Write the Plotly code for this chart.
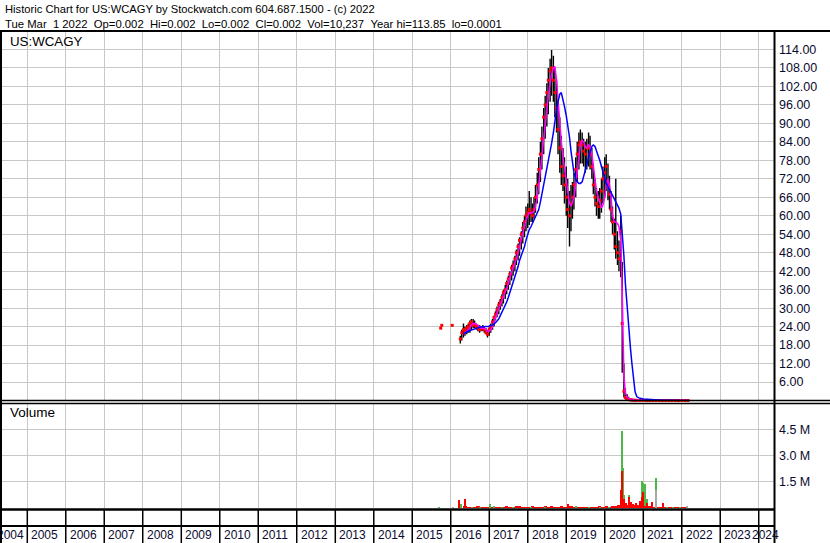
import plotly.graph_objects as go

W, H = 830, 543
FONT = "Liberation Sans, Arial, sans-serif"
GRID = "#c8c8c8"
AXC = "#0a0a30"

# ---------------- data ----------------
price_dates = [
    "2015-09-28", "2015-10-08", "2016-01-15",
    "2016-04-01", "2016-04-15", "2016-05-01", "2016-05-15", "2016-06-01", "2016-06-15",
    "2016-07-01", "2016-07-15", "2016-08-01", "2016-08-15", "2016-09-01", "2016-09-15",
    "2016-10-01", "2016-10-15", "2016-11-01", "2016-11-15", "2016-12-01", "2016-12-15",
    "2017-01-01", "2017-01-15", "2017-02-01", "2017-02-15", "2017-03-01", "2017-03-15",
    "2017-04-01", "2017-04-15", "2017-05-01", "2017-05-15", "2017-06-01", "2017-06-15",
    "2017-07-01", "2017-07-15", "2017-08-01", "2017-08-15", "2017-09-01", "2017-09-15",
    "2017-10-01", "2017-10-15", "2017-11-01", "2017-11-15", "2017-12-01", "2017-12-15",
    "2018-01-01", "2018-01-15", "2018-02-01", "2018-02-15", "2018-03-01", "2018-03-15",
    "2018-04-01", "2018-04-15", "2018-05-01", "2018-05-15", "2018-06-01", "2018-06-15",
    "2018-07-01", "2018-07-15", "2018-08-01", "2018-08-15", "2018-09-01", "2018-09-15",
    "2018-10-01", "2018-10-15", "2018-11-01", "2018-11-15", "2018-12-01", "2018-12-15",
    "2019-01-01", "2019-01-15", "2019-02-01", "2019-02-15", "2019-03-01", "2019-03-15",
    "2019-04-01", "2019-04-15", "2019-05-01", "2019-05-15", "2019-06-01", "2019-06-15",
    "2019-07-01", "2019-07-15", "2019-08-01", "2019-08-15", "2019-09-01", "2019-09-15",
    "2019-10-01", "2019-10-15", "2019-11-01", "2019-11-15", "2019-12-01", "2019-12-15",
    "2020-01-01", "2020-01-15", "2020-02-01", "2020-02-15", "2020-03-01", "2020-03-15",
    "2020-04-01", "2020-04-15", "2020-05-01", "2020-05-15", "2020-06-01", "2020-06-15",
    "2020-07-01", "2020-07-15", "2020-08-01", "2020-08-15", "2020-09-01", "2020-09-15",
    "2020-10-01", "2020-10-15",
    "2020-11-01", "2020-12-01", "2021-01-01", "2021-02-01", "2021-03-01", "2021-04-01",
    "2021-05-01", "2021-06-01", "2021-07-01", "2021-08-01", "2021-09-01", "2021-10-01",
    "2021-11-01", "2021-12-01", "2022-01-01", "2022-02-01", "2022-03-01",
]
price_low = [
    23.2, 24.2, 24.2,
    18.5, 19.5, 20.5, 21, 21.5, 22, 22, 23, 23.5, 23.5, 23, 22.5, 22, 22.5, 22.5, 22, 21.5, 20.5,
    21, 22, 23, 24, 26, 27, 28, 29.5, 30.5, 31.5, 33, 34.5, 36, 37.5, 39, 40.5, 42, 44, 45.5, 47, 49, 51, 53, 55,
    56, 57, 58, 58, 59, 61, 64, 67, 71, 75, 80, 85, 89, 93, 97, 99, 97, 92, 87, 80, 74, 70, 68, 64,
    60, 56, 50, 55, 59, 62, 66, 71, 75, 77, 77, 76, 74, 75, 76, 75, 72, 67, 63, 60, 59, 59, 61, 64,
    66, 68, 65, 62, 58, 54, 49, 46, 44, 42, 40, 9, 1, 0.3, 0.2, 0.1, 0.05, 0.05, 0.02, 0.01,
    0.01, 0.005, 0.005, 0.003, 0.003, 0.002, 0.002, 0.002, 0.002, 0.002, 0.002, 0.002,
    0.002, 0.002, 0.002, 0.002, 0.002,
]
price_high = [
    23.8, 24.6, 24.6,
    21, 23, 25, 24, 24.5, 25, 26, 26.5, 26.5, 26, 25, 24.5, 24.5, 24, 24.5, 24, 23.5, 23,
    24, 25, 26.5, 27.5, 29, 30.5, 32, 33, 34.5, 36, 37.5, 39, 40.5, 42, 44, 45.5, 47, 49, 51, 53, 55, 58, 60, 63,
    64, 68, 66, 64, 66, 70, 74, 79, 84, 89, 95, 99, 103, 108, 111, 113.85, 112, 108, 104, 98, 92, 86, 82, 79,
    76, 72, 68, 70, 71, 74, 79, 84, 87, 88, 87, 85, 84, 85, 87, 86, 82, 77, 72, 69, 68, 69, 72, 76,
    79, 80, 77, 73, 68, 63, 59, 72, 55, 52, 60, 45, 12, 4, 2, 1.2, 0.8, 0.6, 0.4, 0.3,
    0.25, 0.15, 0.1, 0.08, 0.05, 0.05, 0.04, 0.04, 0.03, 0.03, 0.02, 0.02,
    0.02, 0.02, 0.01, 0.01, 0.01,
]
price_close = [
    23.5, 24.4, 24.4,
    20, 22, 23, 22.5, 23.5, 24, 25, 25.5, 24.5, 24.5, 24, 23.5, 23, 23.5, 23.5, 23, 22, 21.5,
    23, 24, 25.5, 27, 28, 29.5, 31, 32, 33.5, 35, 36, 38, 39.5, 41, 43, 44, 46, 48, 50, 52, 54, 56, 58, 60,
    61, 62, 61, 60, 62, 66, 70, 75, 80, 85, 92, 96, 100, 104, 107, 108, 104, 100, 95, 88, 82, 76, 73, 70,
    66, 62, 60, 64, 66, 70, 75, 80, 83, 84, 83, 81, 80, 82, 82, 80, 76, 70, 66, 64, 63, 65, 68, 72,
    74, 76, 70, 67, 62, 58, 54, 50, 48, 46, 55, 25, 3, 1, 0.5, 0.3, 0.2, 0.15, 0.1, 0.05,
    0.05, 0.03, 0.02, 0.01, 0.01, 0.005, 0.005, 0.004, 0.003, 0.003, 0.002, 0.002,
    0.002, 0.002, 0.002, 0.002, 0.002,
]

ma_dates = price_dates[5:]
ma_short = [
    21.5, 22, 22.5, 23, 23.5, 24.5, 25, 25, 24.8, 24.5, 24, 23.5, 23.5, 23.5, 23, 22.5,
    22.5, 23, 24, 25.5, 27, 28.5, 30, 31, 32.5, 34, 35, 36.5, 38, 40, 41.5, 43, 44.5, 46, 48, 50, 52, 54, 56.5, 58.5,
    60, 61, 61, 61, 61.5, 63, 66, 70, 74, 79, 85, 90, 95, 99, 103, 106, 108, 108.5, 104, 97, 90, 84, 79, 75,
    72, 68, 64, 63, 64.5, 66, 70, 74, 79, 83, 84.5, 84, 82.5, 82, 83, 82.5, 80, 76, 71, 68, 66, 64, 62.5, 63.5,
    66, 70, 72, 70, 66, 60, 58, 58, 57.5, 56.5, 52, 35, 8, 2.5, 1, 0.6, 0.4, 0.3, 0.2, 0.15,
    0.1, 0.06, 0.04, 0.03, 0.02, 0.02, 0.01, 0.01, 0.01, 0.01, 0.01, 0.01, 0.01, 0.01, 0.01, 0.01, 0.01,
]
ma_long = [
    21.7, 22, 22.3, 22.5, 22.7, 22.9, 23.1, 23.3, 23.5, 23.7, 23.8, 23.9, 24, 24, 24, 24,
    24.1, 24.3, 24.5, 24.8, 25.2, 25.8, 26.5, 27.5, 28.5, 29.3, 30.5, 32, 33.5, 35, 36.5, 38.5, 40, 41.5, 43.5, 45.5, 47, 48.5, 50, 52,
    54, 55.5, 56.5, 57.5, 58.5, 59.5, 60.5, 62, 64.5, 67, 69.5, 72, 74.5, 77, 80, 83.5, 87, 91, 94.5, 97, 99.5, 100, 98, 95.5,
    92.5, 89.5, 85.5, 81, 77, 74, 72, 71, 70.5, 70.5, 71, 72.5, 74.5, 76.5, 79, 81, 82.5, 83, 82.5, 81, 79.5, 78, 76, 74,
    72, 70.5, 69.5, 68.5, 67.5, 66.5, 65.5, 64.5, 63.5, 62.5, 60.5, 55, 47, 38, 30, 22, 17, 12, 6.5, 2.8,
    1.2, 0.7, 0.5, 0.4, 0.3, 0.25, 0.2, 0.15, 0.12, 0.1, 0.08, 0.06, 0.05, 0.04, 0.03, 0.02, 0.02,
]

# volume in millions
vol_base_dates = [
    "2016-05-15", "2016-06-15", "2016-07-15", "2016-08-15", "2016-09-15", "2016-10-15", "2016-11-15", "2016-12-15",
    "2017-01-15", "2017-02-15", "2017-03-15", "2017-04-15", "2017-05-15", "2017-06-15",
    "2017-07-15", "2017-08-15", "2017-09-15", "2017-10-15", "2017-11-15", "2017-12-15",
    "2018-01-15", "2018-02-15", "2018-03-15", "2018-04-15", "2018-05-15", "2018-06-15",
    "2018-07-15", "2018-08-15", "2018-09-15", "2018-10-15", "2018-11-15", "2018-12-15",
    "2019-01-15", "2019-02-15", "2019-03-15", "2019-04-15", "2019-05-15", "2019-06-15",
    "2019-07-15", "2019-08-15", "2019-09-15", "2019-10-15", "2019-11-15", "2019-12-15",
    "2020-01-15", "2020-02-15", "2020-03-15", "2020-04-15", "2020-05-15", "2020-06-15",
    "2020-07-15", "2020-08-15", "2020-09-15", "2020-10-15", "2020-11-15", "2020-12-15",
    "2021-01-15", "2021-02-15", "2021-03-15", "2021-04-15", "2021-05-15", "2021-06-15",
    "2021-07-15", "2021-08-15", "2021-09-15", "2021-10-15", "2021-11-15", "2021-12-15",
    "2022-01-15", "2022-02-15",
]
vol_base = [
    0.12, 0.1, 0.08, 0.1, 0.12, 0.08, 0.1, 0.08,
    0.1, 0.08, 0.1, 0.08, 0.1, 0.12, 0.1, 0.1, 0.12, 0.14, 0.1, 0.1,
    0.1, 0.12, 0.1, 0.1, 0.1, 0.12, 0.1, 0.12, 0.1, 0.1, 0.12, 0.1,
    0.1, 0.12, 0.1, 0.1, 0.08, 0.1, 0.1, 0.08, 0.1, 0.1, 0.12, 0.1,
    0.12, 0.1, 0.12, 0.15, 0.2, 0.3, 0.25, 0.2, 0.15, 0.2, 0.2, 0.15,
    0.15, 0.15, 0.12, 0.1, 0.1, 0.1, 0.08, 0.08, 0.08, 0.06, 0.06, 0.06,
    0.06, 0.06,
]
vol_green_dates = [
    "2015-09-12", "2016-04-12", "2016-07-20", "2016-10-10", "2017-01-08", "2017-02-12", "2017-05-05",
    "2017-08-12", "2018-02-05", "2018-06-10", "2019-04-08", "2019-08-05", "2019-11-20", "2020-02-10",
    "2020-06-16", "2020-06-26", "2020-07-06", "2020-08-19", "2020-12-20", "2021-01-01", "2021-01-17",
    "2021-02-06", "2021-03-25", "2021-05-04", "2021-08-14", "2021-10-10", "2021-12-16",
]
vol_green = [
    0.06, 0.24, 0.1, 0.08, 0.23, 0.12, 0.08,
    0.11, 0.08, 0.08, 0.17, 0.08, 0.1, 0.08,
    4.47, 2.3, 0.8, 0.78, 1.58, 1.49, 1.43,
    0.55, 0.2, 1.74, 0.1, 0.08, 0.1,
]
vol_red_dates = [
    "2016-03-25", "2016-05-15", "2017-10-19", "2019-01-21", "2020-05-20", "2020-06-01", "2020-06-10",
    "2020-07-06", "2020-07-21", "2020-08-19", "2020-09-06", "2020-09-22", "2020-10-11", "2020-10-26",
    "2020-11-12", "2020-12-01", "2020-12-20", "2021-01-01", "2021-01-17", "2021-02-06", "2021-02-24",
    "2021-03-25", "2021-04-15", "2021-07-06", "2021-09-10", "2022-02-18",
]
vol_red = [
    0.51, 0.57, 0.11, 0.23, 0.15, 1.06, 2.15,
    0.55, 0.3, 0.68, 0.4, 0.25, 0.15, 0.3,
    0.2, 0.45, 0.68, 0.95, 0.12, 0.3, 0.15,
    0.36, 0.1, 0.3, 0.08, 0.06,
]
vol_gray_dates = ["2016-01-20", "2021-05-04", "2022-02-18"]
vol_gray = [0.05, 1.06, 0.12]

price_ticks = [6, 12, 18, 24, 30, 36, 42, 48, 54, 60, 66, 72, 78, 84, 90, 96, 102, 108, 114]
vol_ticks = [1.5, 3.0, 4.5]
vol_tick_text = ["1.5 M", "3.0 M", "4.5 M"]
years = [2005, 2006, 2007, 2008, 2009, 2010, 2011, 2012, 2013, 2014,
         2015, 2016, 2017, 2018, 2019, 2020, 2021, 2022, 2023, 2024]
year_starts = [f"{y}-01-01" for y in years]

header1 = "Historic Chart for US:WCAGY by Stockwatch.com 604.687.1500 - (c) 2022"
header2 = ("Tue Mar\u00a0\u00a01 2022\u00a0\u00a0Op=0.002\u00a0\u00a0Hi=0.002\u00a0\u00a0Lo=0.002\u00a0\u00a0"
           "Cl=0.002\u00a0\u00a0Vol=10,237\u00a0\u00a0Year hi=113.85\u00a0\u00a0lo=0.0001")

# ---------------- helpers ----------------
def py(ypx):
    return 1 - ypx / H

def px(xpx):
    return xpx / W

X_RANGE = ["2004-05-06", "2024-05-25"]
DAY = 86400000

fig = go.Figure()

# hi-lo bars
seg_x, seg_y = [], []
for d, lo, hi in zip(price_dates, price_low, price_high):
    seg_x += [d, d, None]
    seg_y += [lo, hi, None]
fig.add_trace(go.Scatter(x=seg_x, y=seg_y, mode="lines", line=dict(color="black", width=1.4),
                         xaxis="x", yaxis="y", hoverinfo="skip"))
fig.add_trace(go.Scatter(x=price_dates, y=price_close, mode="markers",
                         marker=dict(symbol="square", size=3, color="#ff0000", line=dict(width=0)),
                         xaxis="x", yaxis="y", cliponaxis=False))
fig.add_trace(go.Scatter(x=ma_dates, y=ma_short, mode="lines", line=dict(color="#ff00ff", width=1.5),
                         xaxis="x", yaxis="y"))
fig.add_trace(go.Scatter(x=ma_dates, y=ma_long, mode="lines", line=dict(color="#0000ff", width=1.5),
                         xaxis="x", yaxis="y"))

# volume
fig.add_trace(go.Bar(x=vol_base_dates, y=vol_base, width=31 * DAY, marker=dict(color="#ff0000", line=dict(width=0)),
                     xaxis="x2", yaxis="y2"))
fig.add_trace(go.Bar(x=vol_green_dates, y=vol_green, width=12 * DAY, marker=dict(color="#4cb84c", line=dict(width=0)),
                     xaxis="x2", yaxis="y2"))
fig.add_trace(go.Bar(x=vol_red_dates, y=vol_red, width=12 * DAY, marker=dict(color="#ff0000", line=dict(width=0)),
                     xaxis="x2", yaxis="y2"))
fig.add_trace(go.Bar(x=vol_gray_dates, y=vol_gray, width=12 * DAY, marker=dict(color="#a8a8a8", line=dict(width=0)),
                     xaxis="x2", yaxis="y2"))

axis_common = dict(type="date", range=X_RANGE, tickvals=year_starts, showticklabels=False,
                   showgrid=True, gridcolor=GRID, gridwidth=1, zeroline=False, showline=False, ticks="",
                   domain=[px(2), px(774)])

shapes = []
def hline(ypx, x0, x1, w):
    shapes.append(dict(type="line", xref="paper", yref="paper", x0=px(x0), x1=px(x1),
                       y0=py(ypx), y1=py(ypx), line=dict(color="black", width=w), layer="above"))
def vline(xpx, y0, y1, w):
    shapes.append(dict(type="line", xref="paper", yref="paper", x0=px(xpx), x1=px(xpx),
                       y0=py(y0), y1=py(y1), line=dict(color="black", width=w), layer="above"))

hline(31, 0, 830, 2)
hline(400.5, 0, 830, 1.5)
hline(403.5, 0, 830, 1.5)
hline(509.5, 0, 775, 2.5)
hline(526, 0, 775, 2)
vline(1, 31, 543, 2)
vline(774.5, 31, 543, 2)
for d in year_starts:
    shapes.append(dict(type="line", xref="x", yref="paper", x0=d, x1=d, y0=py(543), y1=py(510),
                       line=dict(color="black", width=1.5), layer="above"))

annotations = [
    dict(text=header1, xref="paper", yref="paper", x=px(3), y=py(9), xanchor="left", yanchor="middle",
         showarrow=False, font=dict(family=FONT, size=11.2, color="black")),
    dict(text=header2, xref="paper", yref="paper", x=px(3), y=py(23.5), xanchor="left", yanchor="middle",
         showarrow=False, font=dict(family=FONT, size=11.3, color="black")),
    dict(text="US:WCAGY", xref="paper", yref="paper", x=px(8), y=py(41), xanchor="left", yanchor="middle",
         showarrow=False, font=dict(family=FONT, size=13.3, color="black")),
    dict(text="Volume", xref="paper", yref="paper", x=px(8), y=py(413), xanchor="left", yanchor="middle",
         showarrow=False, font=dict(family=FONT, size=13.5, color="black")),
]
for y, d in zip(years, year_starts):
    annotations.append(dict(text=str(y), xref="x", yref="paper", x=d, y=py(534.5), xanchor="left",
                            yanchor="middle", xshift=2 if y < 2024 else -9, showarrow=False,
                            font=dict(family=FONT, size=12, color=AXC)))
annotations.append(dict(text="2004", xref="x", yref="paper", x=year_starts[0], y=py(534.5), xanchor="right",
                        yanchor="middle", xshift=-1, showarrow=False, font=dict(family=FONT, size=12, color=AXC)))

fig.update_layout(
    width=W, height=H, margin=dict(l=0, r=0, t=0, b=0),
    paper_bgcolor="white", plot_bgcolor="white", showlegend=False, barmode="overlay", bargap=0,
    xaxis=dict(axis_common, anchor="y"),
    xaxis2=dict(axis_common, anchor="y2", matches="x"),
    yaxis=dict(domain=[py(400.5), py(31)], range=[0, 120], side="right", tickvals=price_ticks, tickformat=".2f",
               showgrid=True, gridcolor=GRID, gridwidth=1, zeroline=False, showline=False, ticks="",
               tickfont=dict(family=FONT, size=12.5, color=AXC), anchor="x", ticklabelstandoff=4),
    yaxis2=dict(domain=[py(508), py(403.5)], range=[0, 6.0], side="right", tickvals=vol_ticks,
                ticktext=vol_tick_text, showgrid=True, gridcolor=GRID, gridwidth=1, zeroline=False,
                showline=False, ticks="", tickfont=dict(family=FONT, size=12.5, color=AXC), anchor="x2",
                ticklabelstandoff=4),
    shapes=shapes, annotations=annotations,
)

fig.write_html("out.html", config={"displayModeBar": False},
               post_script="document.body.style.margin='0';document.body.style.overflow='hidden';")
